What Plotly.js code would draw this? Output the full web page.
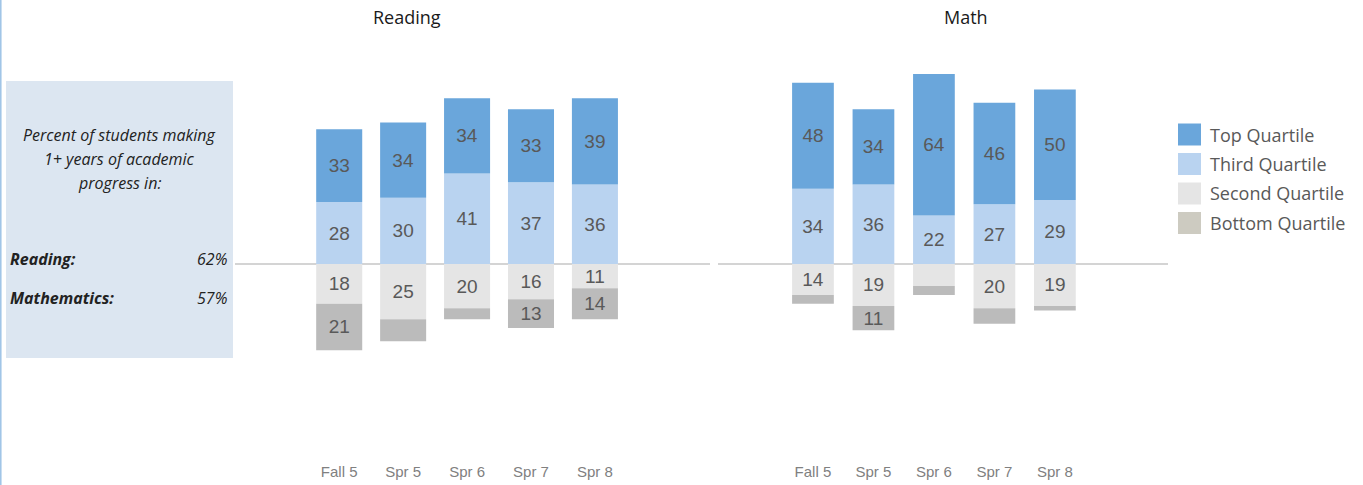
<!DOCTYPE html>
<html>
<head>
<meta charset="utf-8">
<script src="https://cdn.plot.ly/plotly-3.0.1.min.js"></script>
<style>html,body{margin:0;padding:0;background:#fff;}#chart{width:1363px;height:485px;}</style>
</head>
<body>
<div id="chart"></div>
<script>
// ---- data ----
const categories = ['Fall 5', 'Spr 5', 'Spr 6', 'Spr 7', 'Spr 8'];
const seriesNames = ['Top Quartile', 'Third Quartile', 'Second Quartile', 'Bottom Quartile'];

const readingTop    = [33, 34, 34, 33, 39];
const readingThird  = [28, 30, 41, 37, 36];
const readingSecond = [18, 25, 20, 16, 11];
const readingBottom = [21, 10, 5, 13, 14];

const mathTop    = [48, 34, 64, 46, 50];
const mathThird  = [34, 36, 22, 27, 29];
const mathSecond = [14, 19, 10, 20, 19];
const mathBottom = [4, 11, 4, 7, 2];

const panelTitles = ['Reading', 'Math'];
const progressLabels = ['Reading:', 'Mathematics:'];
const progressValues = ['62%', '57%'];

// ---- styles ----
const W = 1363, H = 485;
const plotTop = 30, plotBottom = 461, zeroY = 264, pxPerUnit = 2.21;
const barColors = {'Top Quartile': '#6aa6db', 'Third Quartile': '#b9d3f0', 'Second Quartile': '#e5e5e5', 'Bottom Quartile': '#bbbbbb'};
const legendColors = ['#6aa6db', '#b9d3f0', '#e5e5e5', '#cdcbc1'];
const px = v => v / W;
const py = v => (plotBottom - v) / (plotBottom - plotTop);

function label(v) { return v >= 11 ? String(v) : ''; }

function makeTraces(topV, thirdV, secondV, bottomV, xa, ya, width) {
  const defs = [
    ['Third Quartile', thirdV, 1],
    ['Top Quartile', topV, 1],
    ['Second Quartile', secondV, -1],
    ['Bottom Quartile', bottomV, -1]
  ];
  return defs.map(([name, vals, sign]) => ({
    type: 'bar',
    name: name,
    x: categories,
    y: vals.map(v => sign * v),
    text: vals.map(label),
    textposition: 'inside',
    insidetextanchor: 'middle',
    textangle: 0,
    textfont: {family: 'Liberation Sans, Arial, sans-serif', size: 19, color: '#595959'},
    marker: {color: barColors[name], line: {width: 0}},
    width: width,
    xaxis: xa, yaxis: ya,
    showlegend: false,
    hoverinfo: 'skip'
  }));
}

const traces = [].concat(
  makeTraces(readingTop, readingThird, readingSecond, readingBottom, 'x', 'y', 0.72),
  makeTraces(mathTop, mathThird, mathSecond, mathBottom, 'x2', 'y2', 0.69)
);

const yRange = [-(plotBottom - zeroY) / pxPerUnit, (zeroY - plotTop) / pxPerUnit];

const tickFont = {family: 'Liberation Sans, Arial, sans-serif', size: 15, color: '#808080'};
const yAxisBase = {range: yRange, showgrid: false, showticklabels: false, ticks: '', zeroline: true, zerolinecolor: '#d4d4d4', zerolinewidth: 1.5, showline: false, fixedrange: true};
const xAxisBase = {type: 'category', showgrid: false, showline: false, ticks: '', tickfont: tickFont, fixedrange: true};

const annotations = [];
const titleFont = {family: 'Open Sans, sans-serif', size: 18, color: '#1a1a1a'};
annotations.push({xref: 'paper', yref: 'paper', x: px(407), y: py(17), text: panelTitles[0], showarrow: false, font: titleFont, xanchor: 'center', yanchor: 'middle'});
annotations.push({xref: 'paper', yref: 'paper', x: px(966), y: py(17), text: panelTitles[1], showarrow: false, font: titleFont, xanchor: 'center', yanchor: 'middle'});

const noteFont = {family: 'Open Sans, sans-serif', size: 16, color: '#222222'};
['Percent of students making', '1+ years of academic', 'progress in:'].forEach((t, i) => {
  annotations.push({xref: 'paper', yref: 'paper', x: px(119), y: py(135 + 24 * i), text: '<i>' + t + '</i>', showarrow: false, font: noteFont, xanchor: 'center', yanchor: 'middle'});
});
progressLabels.forEach((t, i) => {
  const yy = 259 + 39 * i;
  annotations.push({xref: 'paper', yref: 'paper', x: px(8), y: py(yy), text: '<b><i>' + t + '</i></b>', showarrow: false, font: noteFont, xanchor: 'left', yanchor: 'middle'});
  annotations.push({xref: 'paper', yref: 'paper', x: px(229), y: py(yy), text: '<i>' + progressValues[i] + '</i>', showarrow: false, font: noteFont, xanchor: 'right', yanchor: 'middle'});
});

const shapes = [
  {type: 'rect', xref: 'paper', yref: 'paper', x0: px(6), x1: px(233), y0: py(81), y1: py(358), fillcolor: '#dce6f1', line: {width: 0}, layer: 'below'},
  {type: 'line', xref: 'paper', yref: 'paper', x0: px(0.8), x1: px(0.8), y0: py(H), y1: py(0), line: {color: '#9dc3e6', width: 1.5}}
];

// legend (built from series names and colours)
const legendFont = {family: 'Open Sans, sans-serif', size: 18, color: '#595959'};
seriesNames.forEach((name, i) => {
  const cy = 134.5 + 29.5 * i;
  shapes.push({type: 'rect', xref: 'paper', yref: 'paper', x0: px(1178), x1: px(1201), y0: py(cy - 11), y1: py(cy + 11), fillcolor: legendColors[i], line: {width: 0}});
  annotations.push({xref: 'paper', yref: 'paper', x: px(1208), y: py(cy), text: name, showarrow: false, font: legendFont, xanchor: 'left', yanchor: 'middle'});
});

const layout = {
  width: W, height: H,
  margin: {l: 0, r: 0, t: plotTop, b: H - plotBottom, pad: 0},
  paper_bgcolor: '#ffffff', plot_bgcolor: 'rgba(0,0,0,0)',
  barmode: 'relative',
  showlegend: false,
  uniformtext: {mode: 'show', minsize: 19},
  xaxis: Object.assign({}, xAxisBase, {domain: [px(235), px(710)], range: [-1.63, 5.8], anchor: 'y'}),
  yaxis: Object.assign({}, yAxisBase, {anchor: 'x'}),
  xaxis2: Object.assign({}, xAxisBase, {domain: [px(718), px(1168)], range: [-1.57, 5.87], anchor: 'y2'}),
  yaxis2: Object.assign({}, yAxisBase, {anchor: 'x2'}),
  annotations: annotations,
  shapes: shapes
};

Plotly.newPlot('chart', traces, layout, {displayModeBar: false, staticPlot: true});
</script>
</body>
</html>
